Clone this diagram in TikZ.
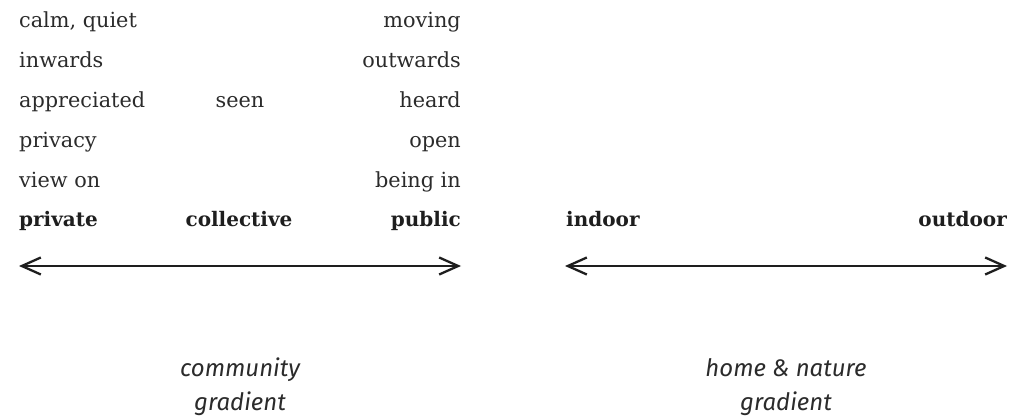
\documentclass[tikz,border=0pt]{standalone}
\usepackage{fontspec}
\setmainfont{DejaVu Serif}
\newfontfamily\gradfont{Fira Sans}
\usetikzlibrary{arrows.meta}
\definecolor{txt}{HTML}{2B2B2B}
\definecolor{ink}{HTML}{1E1E1E}
\tikzset{
  word/.style={inner sep=0pt, text=txt, font=\fontsize{20.8}{24}\selectfont},
  lw/.style={word, anchor=base west},
  rw/.style={word, anchor=base east},
  cw/.style={word, anchor=base},
  pole/.style={inner sep=0pt, text=ink, font=\fontsize{20}{24}\selectfont\bfseries},
  grad/.style={inner sep=0pt, text=txt, anchor=base, font=\fontsize{24}{28}\selectfont\gradfont\itshape},
  axis/.style={draw=ink, line width=2.3pt, {Straight Barb[length=19pt,width=17pt,line width=2.3pt]}-{Straight Barb[length=19pt,width=17pt,line width=2.3pt]}}
}
\begin{document}
\begin{tikzpicture}[x=1pt,y=-1pt]
\useasboundingbox (0,0) rectangle (1012,419);
% left column
\node[lw] (calm) at (19,28) {calm, quiet};
\node[lw] (inw) at (19,68) {inwards};
\node[lw] (appr) at (19,108) {appreciated};
\node[lw] (priv) at (19,148) {privacy};
\node[lw] (view) at (19,188) {view on};
% middle
\node[cw] (seen) at (240,108) {seen};
% right column
\node[rw] (mov) at (461,28) {moving};
\node[rw] (outw) at (461,68) {outwards};
\node[rw] (heard) at (461,108) {heard};
\node[rw] (open) at (461,148) {open};
\node[rw] (being) at (461,188) {being in};
% poles
\node[pole, anchor=base west] (private) at (19,227) {private};
\node[pole, anchor=base] (collective) at (239,227) {collective};
\node[pole, anchor=base east] (public) at (461,227) {public};
\node[pole, anchor=base west] (indoor) at (566,227) {indoor};
\node[pole, anchor=base east] (outdoor) at (1007,227) {outdoor};
% arrows
\coordinate (a1) at (19,266);
\coordinate (a2) at (461,266);
\coordinate (b1) at (565,266);
\coordinate (b2) at (1007,266);
\draw[axis] (a1) -- (a2);
\draw[axis] (b1) -- (b2);
% labels
\node[grad] (comm) at (240,377) {community};
\node[grad] (commg) at (240,410) {gradient};
\node[grad] (home) at (786,377) {home \& nature};
\node[grad] (homeg) at (786,410) {gradient};
\end{tikzpicture}
\end{document}
